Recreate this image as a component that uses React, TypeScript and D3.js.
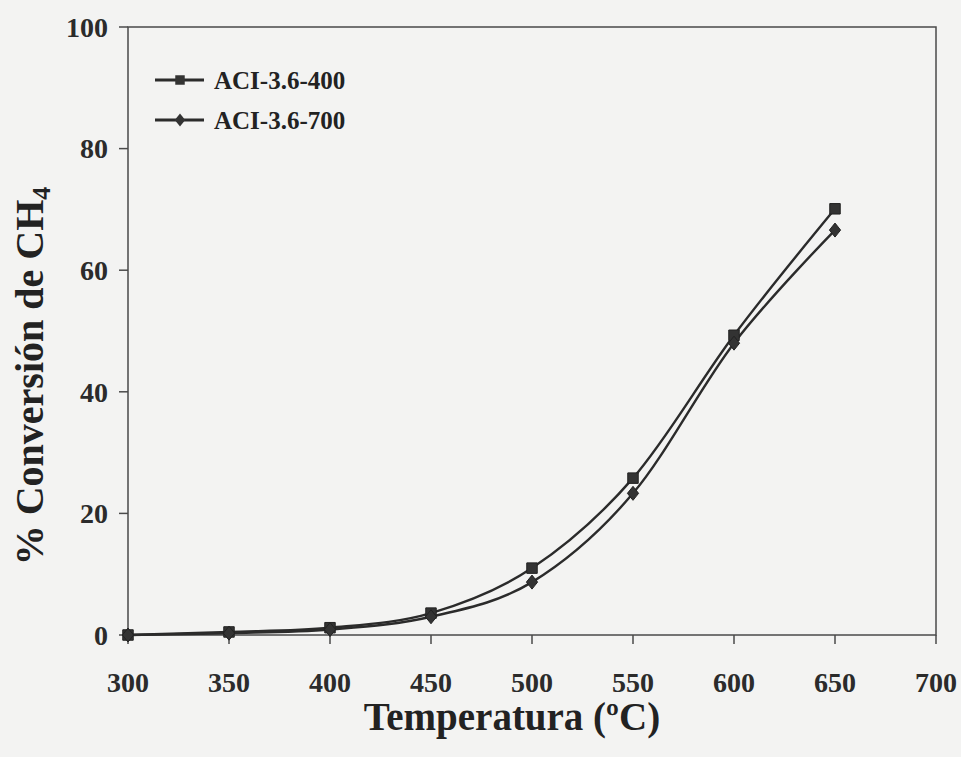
import React from "react";
import * as d3 from "d3";

const temperatures = [300, 350, 400, 450, 500, 550, 600, 650];
const aci400 = [0, 0.5, 1.2, 3.6, 11.0, 25.8, 49.3, 70.1];
const aci700 = [0, 0.3, 0.9, 3.0, 8.7, 23.3, 48.0, 66.6];
const xTicks = [300, 350, 400, 450, 500, 550, 600, 650, 700];
const yTicks = [0, 20, 40, 60, 80, 100];
const seriesNames = ["ACI-3.6-400", "ACI-3.6-700"];

const W = 961;
const H = 757;
const left = 128, right = 936, top = 27, bottom = 635;
const FONT = "'Liberation Serif', 'Times New Roman', serif";
const INK = "#2b2b2b";

export default function App() {
  const x = d3.scaleLinear().domain([300, 700]).range([left, right]);
  const y = d3.scaleLinear().domain([0, 100]).range([bottom, top]);
  const line = d3
    .line<number>()
    .x((_, i) => x(temperatures[i]))
    .y((d) => y(d))
    .curve(d3.curveCardinal.tension(0));

  const square = d3.symbol().type(d3.symbolSquare).size(110)();
  const diamond = (s: number) => `M0,${-s}L${s * 0.8},0L0,${s}L${-s * 0.8},0Z`;

  return (
    <svg width={W} height={H} style={{ position: "absolute", left: 0, top: 0, background: "#f3f3f2" }}>
      <rect x={0} y={0} width={W} height={H} fill="#f3f3f2" />
      {/* frame */}
      <rect x={left} y={top} width={right - left} height={bottom - top} fill="none" stroke="#4a4a4a" strokeWidth={1.5} />
      {/* y ticks */}
      {yTicks.map((t) => (
        <g key={"y" + t}>
          <line x1={left - 9} x2={left} y1={y(t)} y2={y(t)} stroke="#4a4a4a" strokeWidth={1.5} />
          <text x={108} y={y(t)} dy="0.35em" textAnchor="end" fontFamily={FONT} fontWeight="bold" fontSize={28} fill={INK}>
            {t}
          </text>
        </g>
      ))}
      {/* x ticks */}
      {xTicks.map((t) => (
        <g key={"x" + t}>
          <line x1={x(t)} x2={x(t)} y1={bottom} y2={bottom + 9} stroke="#4a4a4a" strokeWidth={1.5} />
          <text x={x(t)} y={692} textAnchor="middle" fontFamily={FONT} fontWeight="bold" fontSize={28} fill={INK}>
            {t}
          </text>
        </g>
      ))}
      {/* axis titles */}
      <text x={512} y={730} textAnchor="middle" fontFamily={FONT} fontWeight="bold" fontSize={39} fill="#222">
        Temperatura (ºC)
      </text>
      <text
        transform={`translate(43, 376) rotate(-90)`}
        textAnchor="middle"
        fontFamily={FONT}
        fontWeight="bold"
        fontSize={40}
        fill="#222"
      >
        % Conversión de CH<tspan fontSize={26} dy={7}>4</tspan>
      </text>
      {/* series lines */}
      <path d={line(aci400) || ""} fill="none" stroke={INK} strokeWidth={2.4} />
      <path d={line(aci700) || ""} fill="none" stroke={INK} strokeWidth={2.4} />
      {/* markers */}
      {aci400.map((v, i) => (
        <path key={"s" + i} d={square || ""} transform={`translate(${x(temperatures[i])},${y(v)})`} fill="#333" stroke="#222" strokeWidth={1} />
      ))}
      {aci700.map((v, i) => (
        <path key={"d" + i} d={diamond(7)} transform={`translate(${x(temperatures[i])},${y(v)})`} fill="#333" stroke="#222" strokeWidth={1} />
      ))}
      {/* legend */}
      {seriesNames.map((name, i) => {
        const ly = 80 + i * 40;
        return (
          <g key={name}>
            <line x1={155} x2={204} y1={ly} y2={ly} stroke={INK} strokeWidth={3} />
            {i === 0 ? (
              <path d={d3.symbol().type(d3.symbolSquare).size(90)() || ""} transform={`translate(180,${ly})`} fill="#333" />
            ) : (
              <path d={diamond(6.5)} transform={`translate(180,${ly})`} fill="#333" />
            )}
            <text x={214} y={ly} dy="0.35em" fontFamily={FONT} fontWeight="bold" fontSize={25} fill="#222">
              {name}
            </text>
          </g>
        );
      })}
    </svg>
  );
}
